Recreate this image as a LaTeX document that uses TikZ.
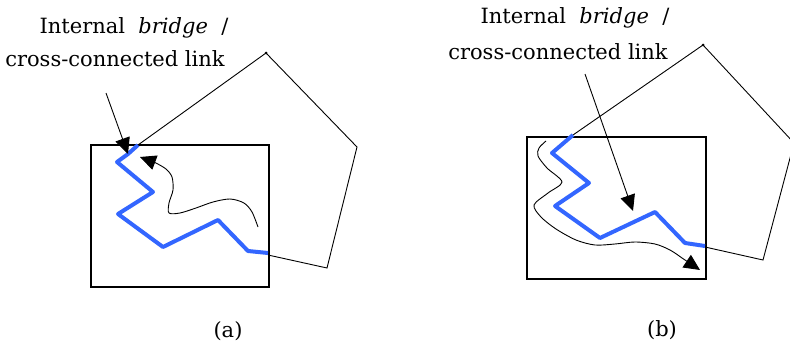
\documentclass[tikz,border=0pt]{standalone}
\usepackage{fontspec}
\setmainfont{DejaVu Serif}
\usetikzlibrary{arrows.meta}
\definecolor{linkblue}{RGB}{51,102,255}
\tikzset{
  linkpath/.style={line width=4pt, linkblue, line join=round},
  region/.style={draw, line width=1.4pt},
  boundary/.style={line width=0.9pt},
  walk/.style={line width=0.9pt, ->},
  label/.style={font=\fontsize{21}{25}\selectfont, inner sep=0pt}
}
\begin{document}
\begin{tikzpicture}[x=1pt, y=-1pt, >={Triangle[length=16pt,width=15pt]}]
    \useasboundingbox (0,0) rectangle (790,348);

    % (a) 内部ブリッジの説明
    \node[label] (labA1) at (134,28) {Internal\ \ \textit{bridge}\ \ /};
    \node[label] (labA2) at (115,59) {cross-connected link};
    \node[label] (capA) at (228,331) {(a)};

    % 矩形領域
    \draw[region] (91,145) rectangle (269,287);

    % 外側の多角形
    \draw[boundary] (138,145) -- (266,53) -- (357,147) -- (327,268) -- (268,255);
    \fill (266,53) circle (1.5);

    % 青いリンク
    \coordinate (bridgeA) at (128,154);
    \draw[linkpath] (138,145) -- (bridgeA) -- (117,162) -- (153,192) -- (118,214)
      -- (163,247) -- (218,220) -- (248,251) -- (268,253);

    % 説明文からの矢印
    \coordinate (ptrA) at (106,93);
    \draw[walk] (ptrA) -- (bridgeA);

    % 曲線の矢印
    \draw[walk] plot[smooth] coordinates {(258,227) (252,212) (244,203) (230,199)
      (213,202) (196,208) (180,213) (169,213) (169,203) (173,190) (172,177) (166,169) (156,163)}
      -- (140,157);

    % (b) 内部ブリッジの説明
    \node[label] (labB1) at (575,18) {Internal\ \ \textit{bridge}\ \ /};
    \node[label] (labB2) at (558,52) {cross-connected link};
    \node[label] (capB) at (662,330) {(b)};

    % 矩形領域
    \draw[region] (527,137) rectangle (706,279);

    % 外側の多角形
    \draw[boundary] (573,135) -- (703,45) -- (794,143) -- (763,260) -- (705,247);
    \fill (703,45) circle (1.5);

    % 青いリンク
    \draw[linkpath] (573,135) -- (552,153) -- (589,183) -- (555,206) -- (600,238)
      -- (655,212) -- (685,243) -- (705,246);

    % 説明文からの矢印
    \coordinate (ptrB) at (585,74);
    \coordinate (tipB) at (633,211);
    \draw[walk] (ptrB) -- (tipB);

    % 曲線の矢印
    \draw[walk] plot[smooth] coordinates {(546,141) (539,148) (538,156) (547,168)
      (562,182) (548,193) (534,205) (541,217) (556,229) (576,240) (595,245) (615,244)
      (635,242) (655,244) (670,250) (682,258)} -- (700,270);
\end{tikzpicture}
\end{document}
